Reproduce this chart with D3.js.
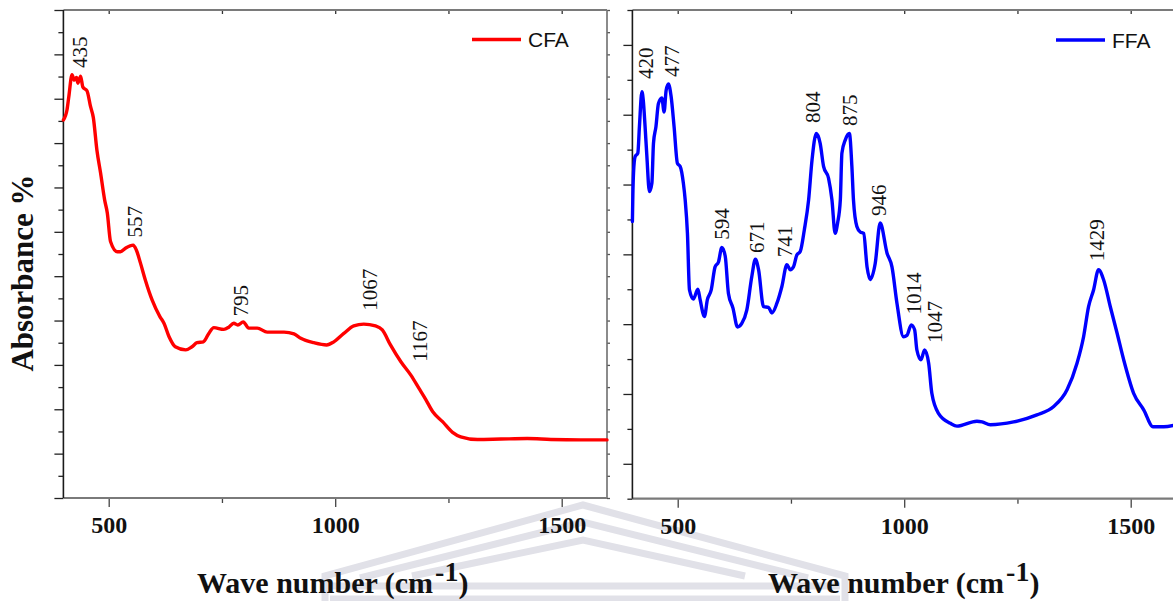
<!DOCTYPE html>
<html><head><meta charset="utf-8">
<script src="https://cdn.jsdelivr.net/npm/d3@7"></script>
<style>
html,body{margin:0;padding:0;background:#fff;}
svg{display:block;}
</style></head><body>
<svg id="chart" width="1173" height="601"></svg>
<script>
// ---------------- data ----------------
const xDomain = [400, 1600];
const xMajorTicks = [500, 1000, 1500];
const xMinorTicks = [750, 1250];

const cfaName = "CFA";
const cfaWave = [400,408,412,419,424,429,432,438,443,452,460,466,474,482,491,497,504,519,526,537,554,561,570,581,596,613,622,633,647,670,684,695,709,721,732,754,765,776,785,797,809,828,850,887,909,924,953,981,997,1019,1041,1063,1089,1104,1122,1145,1167,1185,1200,1215,1237,1259,1277,1314,1366,1424,1476,1542,1600];
const cfaAbs  = [8.52,8.75,9.05,9.54,9.42,9.48,9.35,9.51,9.26,9.18,8.82,8.58,7.84,7.33,6.72,6.42,5.78,5.55,5.55,5.63,5.70,5.59,5.30,4.91,4.46,4.09,3.94,3.64,3.41,3.34,3.41,3.50,3.52,3.71,3.84,3.80,3.85,3.94,3.90,3.97,3.83,3.83,3.74,3.74,3.70,3.60,3.50,3.45,3.52,3.71,3.88,3.92,3.88,3.79,3.45,3.07,2.77,2.47,2.22,1.95,1.72,1.48,1.38,1.32,1.33,1.34,1.32,1.31,1.31];
const cfaYDomain = [0, 11];
const cfaYMajor = [0,1,2,3,4,5,6,7,8,9,10,11];
const cfaYMinor = [0.5,1.5,2.5,3.5,4.5,5.5,6.5,7.5,8.5,9.5,10.5];
const cfaPeakLabels = ["435","557","795","1067","1167"];
const cfaPeakX = [435.5,558,791,1077,1187];
const cfaPeakY = [9.69,5.87,4.09,4.22,3.07];

const ffaName = "FFA";
const ffaWave = [400,401,402.5,406,412,415.5,421,424,428,432,437.5,443,446.5,452,457.5,465,470,474.5,479.5,485.5,492,499.5,505.5,512.5,516.5,521.5,526,534.5,544.5,549.5,559,565.5,574,582.5,590,597.5,605,612,622,632,641.5,652.5,663.5,671.5,678.5,689.5,700.5,708,719,730,741,748.5,755.5,763,770.5,779.5,789,796.5,806,814.5,822,833,840.5,847.5,853,859,862.5,870,879,884.5,888,895.5,903,910.5,918,925,936,947,962,973,984,998.5,1006,1015.5,1023,1028,1037,1045,1054,1061,1076,1102,1116.5,1160.5,1172,1190,1241.5,1293,1330,1359.5,1381.5,1396,1407,1418,1429,1440.5,1455,1470,1484.5,1506.5,1529,1549.5,1573,1600];
const ffaAbs  = [3.47,3.85,4.17,4.40,4.45,4.83,5.33,5.21,4.83,4.40,3.90,4.02,4.59,4.83,5.16,5.24,5.04,5.35,5.44,5.26,4.83,4.30,4.26,4.02,3.78,3.30,2.49,2.36,2.50,2.35,2.11,2.35,2.49,2.82,2.89,3.10,2.97,2.44,2.23,1.96,2.01,2.20,2.68,2.93,2.78,2.25,2.24,2.16,2.30,2.54,2.85,2.78,2.82,2.99,3.04,3.35,3.78,4.35,4.73,4.59,4.26,4.09,3.78,3.30,3.45,3.78,4.45,4.64,4.73,4.26,3.78,3.40,3.32,3.30,2.82,2.64,2.87,3.45,3.02,2.82,2.30,1.82,1.84,1.99,1.92,1.63,1.49,1.63,1.44,1.01,0.72,0.58,0.54,0.61,0.60,0.56,0.60,0.70,0.82,1.06,1.44,1.82,2.25,2.49,2.78,2.63,2.25,1.87,1.49,1.01,0.77,0.53,0.53,0.56];
const ffaYDomain = [-0.5, 6.5];
const ffaYMajor = [0,1,2,3,4,5,6];
const ffaYMinor = [-0.5,0.5,1.5,2.5,3.5,4.5,5.5,6.5];
const ffaPeakLabels = ["420","477","594","671","741","804","875","946","1014","1047","1429"];
const ffaPeakX = [428.9,485.9,597.1,675.1,736.9,798.7,879.7,944.4,1021.6,1066.4,1425.6];
const ffaPeakY = [5.51,5.54,3.21,3.02,2.96,4.88,4.84,3.55,2.14,1.73,2.90];

const xTitleMain = "Wave number (cm";
const xTitleSup = "-1";
const xTitleEnd = ")";
const yTitle = "Absorbance %";

// ---------------- drawing ----------------
const svg = d3.select("#chart");
const SERIF = "'Liberation Serif','Times New Roman',serif";
const SANS = "'Liberation Sans',Arial,sans-serif";

// faint background watermark (decorative)
const wm = svg.append("g").attr("fill","none").attr("stroke","#e1e1e8").attr("stroke-width",7).attr("stroke-linejoin","miter");
[
  "M325,601 V576 L583,505 L845,576 V601",
  "M360,578 L583,522 L808,578",
  "M412,576 L583,540 L745,576",
  "M330,586 H840",
  "M330,599 H840"
].forEach(d => wm.append("path").attr("d", d));

function drawPanel(o) {
  const x = d3.scaleLinear().domain(xDomain).range([o.left, o.right]);
  const y = d3.scaleLinear().domain(o.yDomain).range([o.bottom, o.top]);
  const g = svg.append("g");

  const style = (sel, col) => {
    sel.select(".domain").remove();
    sel.selectAll(".tick line").attr("stroke", col).attr("stroke-width", 1.3);
  };

  // bottom axis
  const bMaj = g.append("g").attr("transform",`translate(0,${o.bottom})`)
    .call(d3.axisBottom(x).tickValues(xMajorTicks).tickSize(9).tickFormat(d3.format("d")));
  style(bMaj, "#444");
  bMaj.selectAll(".tick text").attr("y", 35).attr("dy", 0)
    .attr("font-family", SERIF).attr("font-weight","bold").attr("font-size", 24).attr("fill","#111");
  const bMin = g.append("g").attr("transform",`translate(0,${o.bottom})`)
    .call(d3.axisBottom(x).tickValues(xMinorTicks).tickSize(5).tickFormat(""));
  style(bMin, "#444");

  // top axis (inward)
  const tAx = g.append("g").attr("transform",`translate(0,${o.top})`)
    .call(d3.axisTop(x).tickValues(xMajorTicks.concat(xMinorTicks)).tickSize(-4).tickFormat(""));
  style(tAx, "#333");

  // left axis
  const lMaj = g.append("g").attr("transform",`translate(${o.left},0)`)
    .call(d3.axisLeft(y).tickValues(o.yMajor).tickSize(9).tickFormat(""));
  style(lMaj, "#222");
  const lMin = g.append("g").attr("transform",`translate(${o.left},0)`)
    .call(d3.axisLeft(y).tickValues(o.yMinor).tickSize(5).tickFormat(""));
  style(lMin, "#222");

  if (o.rightAxis) {
    const rAx = g.append("g").attr("transform",`translate(${o.right},0)`)
      .call(d3.axisRight(y).tickValues(o.yMajor.concat(o.yMinor)).tickSize(3).tickFormat(""));
    style(rAx, "#555");
    g.append("line").attr("x1",o.right).attr("x2",o.right).attr("y1",o.top).attr("y2",o.bottom)
      .attr("stroke","#6e6e6e").attr("stroke-width",1.6);
  }
  // frame lines
  g.append("line").attr("x1",o.left).attr("x2",o.right).attr("y1",o.top).attr("y2",o.top)
    .attr("stroke","#7a7a7a").attr("stroke-width",2.2);
  g.append("line").attr("x1",o.left).attr("x2",o.right).attr("y1",o.bottom).attr("y2",o.bottom)
    .attr("stroke","#7a7a7a").attr("stroke-width",2.2);
  g.append("line").attr("x1",o.left).attr("x2",o.left).attr("y1",o.top).attr("y2",o.bottom)
    .attr("stroke","#1a1a1a").attr("stroke-width",1.6);

  // curve
  const pts = o.wave.map((w,i)=>[w, o.abs[i]]);
  g.append("path").datum(pts)
    .attr("fill","none").attr("stroke",o.color).attr("stroke-width",3.4)
    .attr("stroke-linejoin","round").attr("stroke-linecap","round")
    .attr("d", d3.line().x(d=>x(d[0])).y(d=>y(d[1])).curve(d3.curveMonotoneX));

  // peak labels
  o.peakLabels.forEach((t,i)=>{
    g.append("text")
      .attr("transform",`translate(${x(o.peakX[i])},${y(o.peakY[i])}) rotate(-90)`)
      .attr("dy","0.35em").attr("text-anchor","start")
      .attr("font-family",SERIF).attr("font-size",21).attr("fill","#111")
      .text(t);
  });

  // legend
  g.append("line").attr("x1",o.legX).attr("x2",o.legX+49).attr("y1",o.legY).attr("y2",o.legY)
    .attr("stroke",o.color).attr("stroke-width",3.6);
  g.append("text").attr("x",o.legX+56).attr("y",o.legY+7.5)
    .attr("font-family",SANS).attr("font-size",21).attr("fill","#111").text(o.name);

  // x title
  const tt = g.append("text").attr("x",o.titleX).attr("y",593)
    .attr("font-family",SERIF).attr("font-weight","bold").attr("font-size",30).attr("fill","#111");
  tt.append("tspan").text(xTitleMain);
  tt.append("tspan").attr("dy",-12).attr("dx",2).attr("font-size",28).text(xTitleSup);
  tt.append("tspan").attr("dy",12).attr("font-size",30).text(xTitleEnd);
}

drawPanel({left:63.4, right:607, top:10, bottom:498,
  yDomain:cfaYDomain, yMajor:cfaYMajor, yMinor:cfaYMinor,
  wave:cfaWave, abs:cfaAbs, color:"#ff0000", name:cfaName,
  peakLabels:cfaPeakLabels, peakX:cfaPeakX, peakY:cfaPeakY,
  legX:472, legY:39.5, titleX:197, rightAxis:true});

drawPanel({left:632.4, right:1176, top:10, bottom:498.7,
  yDomain:ffaYDomain, yMajor:ffaYMajor, yMinor:ffaYMinor,
  wave:ffaWave, abs:ffaAbs, color:"#0000ff", name:ffaName,
  peakLabels:ffaPeakLabels, peakX:ffaPeakX, peakY:ffaPeakY,
  legX:1056, legY:40, titleX:768, rightAxis:false});

// y title
svg.append("text").attr("transform","translate(33,273) rotate(-90)")
  .attr("text-anchor","middle")
  .attr("font-family",SERIF).attr("font-weight","bold").attr("font-size",31).attr("fill","#111")
  .text(yTitle);
</script>
</body></html>
